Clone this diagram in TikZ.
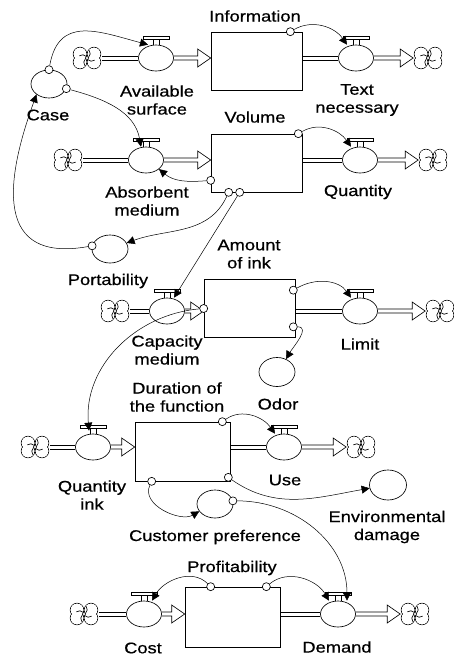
\documentclass[tikz,border=0pt]{standalone}
\usepackage{fontspec}
\setmainfont{Liberation Sans}[FakeStretch=1.18,FakeBold=0.6]
\usetikzlibrary{arrows.meta,shapes.geometric,calc}

\begin{document}
\begin{tikzpicture}[x=1pt,y=1pt,line width=0.65pt]
        \tikzset{stock/.style={draw, minimum width=91pt, minimum height=58pt, inner sep=0pt},
                 valve/.style={draw, ellipse, minimum width=35pt, minimum height=26pt, inner sep=0pt},
                 aux/.style={draw, ellipse, minimum width=36pt, minimum height=29pt, inner sep=0pt},
                 cloud/.style={minimum width=29pt, minimum height=22pt, inner sep=0pt},
                 tap/.style={draw, circle, fill=white, minimum size=8pt, inner sep=0pt},
                 link/.style={line width=0.5pt, -{Triangle[length=8pt,width=8pt]}},
                 lbl/.style={align=center, inner sep=0pt, font=\fontsize{15.5}{18}\selectfont}}
        \useasboundingbox (0,0) rectangle (454,-656);
        % stocks
        \node[stock] (info) at (256.5,-61) {};
        \node[stock] (vol) at (256.5,-163) {};
        \node[stock] (amount) at (249.5,-308.5) {};
        \node[stock, minimum width=95pt, minimum height=59pt] (dur) at (182.5,-451.5) {};
        \node[stock, minimum width=95pt, minimum height=60pt] (prof) at (232.5,-617) {};
        % valves
        \node[valve] (avail) at (156,-58) {};
        \node[valve] (textn) at (356,-58) {};
        \node[valve] (absorb) at (146,-160) {};
        \node[valve] (quant) at (360,-160) {};
        \node[valve] (capac) at (167,-311) {};
        \node[valve] (limit) at (360,-311) {};
        \node[valve] (qink) at (93,-447) {};
        \node[valve] (use) at (284,-447) {};
        \node[valve] (cost) at (144,-614) {};
        \node[valve] (demand) at (338,-614) {};
        \foreach \v in {avail,textn,absorb,quant,capac,limit,qink,use,cost,demand}{
            \draw ([xshift=-3pt]\v.north) -- ++(0,5);
            \draw ([xshift=3pt]\v.north) -- ++(0,5);
            \draw ([shift={(-13,5)}]\v.north) rectangle ++(26,3);
        }
        % auxiliaries
        \node[aux, minimum height=28pt] (case) at (49,-84) {};
        \node[aux, minimum height=28pt] (porta) at (110,-249) {};
        \node[aux] (odor) at (277,-372) {};
        \node[aux, minimum height=28pt] (custpref) at (215,-504) {};
        \node[aux, minimum width=37pt, minimum height=30pt] (envdam) at (388,-485) {};
        % clouds
        \node[cloud] (cl1) at (87,-58) {};
        \node[cloud] (cl2) at (428,-58) {};
        \node[cloud] (cl3) at (68,-160) {};
        \node[cloud] (cl4) at (433,-160) {};
        \node[cloud] (cl5) at (115,-311) {};
        \node[cloud] (cl6) at (440,-311) {};
        \node[cloud] (cl7) at (35,-447) {};
        \node[cloud] (cl8) at (361,-447) {};
        \node[cloud] (cl9) at (84,-614) {};
        \node[cloud] (cl10) at (415,-614) {};
        \foreach \c in {cl1,cl2,cl3,cl4,cl5,cl6,cl7,cl8,cl9,cl10}{
            \foreach \dx/\dy in {-7/4, 7/4, 7/-4, -7/-4}
                \draw ([shift={(\dx,\dy)}]\c.center) circle (6.8);
            \foreach \dx/\dy in {-7/4, 7/4, 7/-4, -7/-4}
                \fill[white] ([shift={(\dx,\dy)}]\c.center) circle (6.3);
            \foreach \a in {20,110,200,290}
                \draw ([shift={(\a:1.5)}]\c.center) to[bend right=45] ([shift={(\a+55:8)}]\c.center);
        }
        % flows
        \coordinate (oI) at (info.east |- textn);
        \coordinate (oV) at (vol.east |- quant);
        \coordinate (oA) at (amount.east |- limit);
        \coordinate (oD) at (dur.east |- use);
        \coordinate (oP) at (prof.east |- demand);
        \foreach \a/\b in {cl1.east/avail.west, cl3.east/absorb.west, cl5.east/capac.west,
                           cl7.east/qink.west, cl9.east/cost.west, oI/textn.west, oV/quant.west,
                           oA/limit.west, oD/use.west, oP/demand.west}{
            \draw ([yshift=2pt]\a) -- ([yshift=2pt]\b);
            \draw ([yshift=-2pt]\a) -- ([yshift=-2pt]\b);
        }
        \coordinate (hI) at (info.west |- avail);
        \coordinate (hV) at (vol.west |- absorb);
        \coordinate (hA) at (amount.west |- capac);
        \coordinate (hD) at (dur.west |- qink);
        \coordinate (hP) at (prof.west |- cost);
        \foreach \a/\h in {avail/hI, absorb/hV, capac/hA, qink/hD, cost/hP,
                           textn/cl2.west, quant/cl4.west, limit/cl6.west, use/cl8.west, demand/cl10.west}
            \draw ([yshift=2pt]\a.east) -- ([shift={(-13,2)}]\h) -- ++(0,7) -- (\h)
                  -- ([shift={(-13,-9)}]\h) -- ++(0,7) -- ([yshift=-2pt]\a.east);
        % taps
        \node[tap] (ti) at ([xshift=-12pt]info.north east) {};
        \node[tap] (tvq) at ([xshift=-4pt]vol.north east) {};
        \node[tap] (tv1) at ([yshift=12pt]vol.south west) {};
        \node[tap] (tv2) at ([xshift=18pt]vol.south west) {};
        \node[tap] (tv3) at ([xshift=29pt]vol.south west) {};
        \node[tap] (tc1) at (case.north) {};
        \node[tap] (tc2) at (case.-15) {};
        \node[tap] (tp) at (porta.170) {};
        \node[tap] (ta1) at (amount.west) {};
        \node[tap] (ta2) at ([shift={(-2,-11)}]amount.north east) {};
        \node[tap] (ta3) at ([shift={(-2,11)}]amount.south east) {};
        \node[tap] (td1) at ([xshift=-8pt]dur.north east) {};
        \node[tap] (td2) at ([shift={(-2,4)}]dur.south east) {};
        \node[tap] (td3) at ([xshift=17pt]dur.south west) {};
        \node[tap] (tcp) at (custpref.10) {};
        \node[tap] (tpr1) at ([xshift=26pt]prof.north west) {};
        \node[tap] (tpr2) at ([xshift=-14pt]prof.north east) {};
        % links
        \draw[link] (ti) to[out=30,in=125] ([xshift=-9pt]textn.north);
        \draw[link] (tvq) to[out=30,in=125] ([xshift=-9pt]quant.north);
        \draw[link] (tc1) to[out=80,in=165,looseness=1.3] ([xshift=-8pt]avail.north);
        \draw[link] (tc2) to[out=-15,in=100] ([xshift=-5pt]absorb.north);
        \draw[link] (tv1) to[out=185,in=-40] (absorb.-35);
        \draw[link] (tv2) to[out=-115,in=20] (porta.20);
        \draw[link] (tv3) -- ([xshift=7pt]capac.north);
        \draw[link] (tp) to[out=190,in=250,looseness=1.5] (case.220);
        \draw[link] (ta1) to[out=185,in=95] ([shift={(-4,3)}]qink.north);
        \draw[link] (ta2) to[out=30,in=125] ([xshift=-9pt]limit.north);
        \draw[link] (ta3) to[out=0,in=60] (odor.55);
        \draw[link] (td1) to[out=35,in=125] ([xshift=-9pt]use.north);
        \draw[link] (td2) to[out=-35,in=190] (envdam.190);
        \draw[link] (td3) to[out=-115,in=210] (custpref.205);
        \draw[link] (tcp) to[out=0,in=90] ([xshift=9pt]demand.north);
        \draw[link] (tpr1) to[out=135,in=60] ([xshift=8pt]cost.north);
        \draw[link] (tpr2) to[out=40,in=120] ([xshift=-9pt]demand.north);
        % labels
        \node[lbl] (lInfo) at (255,-16) {Information};
        \node[lbl] (lAvail) at (157,-100) {Available\\surface};
        \node[lbl] (lText) at (357,-100) {Text\\necessary};
        \node[lbl] (lCase) at (48,-115) {Case};
        \node[lbl] (lVol) at (255,-117) {Volume};
        \node[lbl] (lAbs) at (147,-201) {Absorbent\\medium};
        \node[lbl] (lQuant) at (358,-192) {Quantity};
        \node[lbl] (lAmount) at (249,-254) {Amount\\of ink};
        \node[lbl] (lPorta) at (108,-281) {Portability};
        \node[lbl] (lCapac) at (167,-350) {Capacity\\medium};
        \node[lbl] (lLimit) at (360,-344) {Limit};
        \node[lbl] (lOdor) at (278,-404) {Odor};
        \node[lbl] (lDur) at (177,-397) {Duration of\\the function};
        \node[lbl] (lUse) at (285,-480) {Use};
        \node[lbl] (lQink) at (92,-495) {Quantity\\ink};
        \node[lbl] (lCust) at (215,-537) {Customer preference};
        \node[lbl] (lEnv) at (387,-527) {Environmental\\damage};
        \node[lbl] (lProf) at (232,-568) {Profitability};
        \node[lbl] (lCost) at (143,-648) {Cost};
        \node[lbl] (lDemand) at (337,-647) {Demand};
\end{tikzpicture}
\end{document}
